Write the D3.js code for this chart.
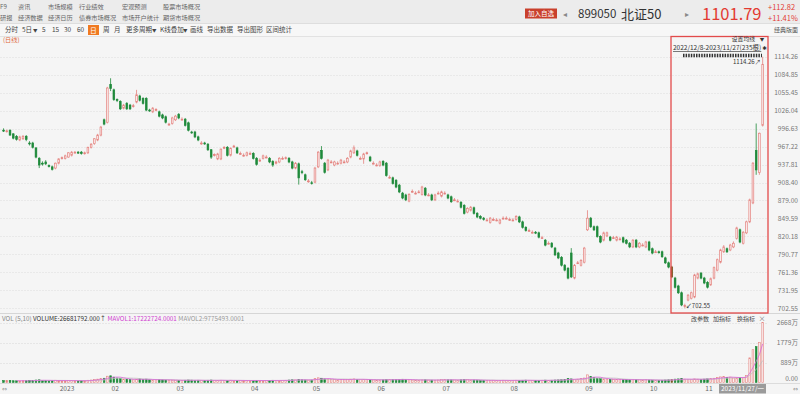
<!DOCTYPE html>
<html><head><meta charset="utf-8">
<script src="https://cdn.jsdelivr.net/npm/d3@7"></script>
<style>
html,body{margin:0;padding:0;background:#f5f5f5;overflow:hidden}
svg{display:block;font-family:"Noto Sans CJK SC","Noto Sans",sans-serif}
</style></head><body>
<svg id="c" width="800" height="394"></svg>
<script>
// ---- data (北证50 日线, 2022/12/8 - 2023/11/27, 235 bars) ----
const opens=[994,992,994,988,984,978,980,984,973,973,
965,948,940,942,936,934,932,940,948,948,
950,953,958,958,958,956,957,966,972,978,
986,1011,1007,1069,1060,1044,1041,1030,1038,1035,
1034,1040,1050,1046,1046,1027,1024,1027,1024,1019,
1016,1004,1005,1011,1020,1012,1012,1006,991,991,
983,973,973,971,962,953,947,947,965,966,
953,967,965,956,953,953,956,956,948,945,
948,950,948,943,940,942,948,948,948,942,
932,939,926,921,911,908,909,934,961,940,
929,942,937,940,940,942,942,950,957,960,
948,947,956,950,940,937,936,943,940,917,
916,912,904,891,888,878,894,891,893,889,
899,888,888,880,891,886,891,888,885,880,
878,876,871,860,863,867,858,853,850,847,
843,848,847,842,850,850,848,847,848,852,
844,835,830,827,827,826,818,814,809,809,
801,793,786,773,768,793,752,777,773,778,
831,850,836,836,820,814,821,819,818,814,
816,818,814,809,803,814,803,806,803,811,
800,795,795,795,785,777,770,752,739,728,
707,716,719,721,752,760,752,745,741,752,
765,778,795,800,798,803,817,831,809,826,
844,875,961,925,1002];
const closes=[993,993,986,981,979,983,984,979,972,966,
950,937,939,939,935,930,940,947,949,952,
957,958,958,957,956,957,966,971,980,986,
999,1004,1063,1062,1044,1043,1029,1035,1029,1029,
1034,1052,1043,1038,1027,1026,1030,1028,1017,1014,
1007,1004,1014,1017,1014,1012,1002,994,990,983,
978,973,972,962,950,954,955,963,966,953,
964,968,957,956,953,957,956,948,938,945,
952,950,942,937,942,948,948,949,942,932,
940,916,925,913,911,907,932,958,948,925,
945,942,942,940,945,942,948,960,965,953,
948,955,957,944,940,937,942,937,920,917,
907,901,893,883,880,889,894,891,893,901,
888,888,880,888,891,893,891,883,877,880,
878,868,858,866,868,858,852,850,848,847,
850,848,847,847,850,850,848,847,853,844,
835,830,830,827,826,819,818,806,809,803,
790,785,773,765,752,754,773,777,781,801,
850,836,831,820,811,826,826,814,818,819,
816,811,809,803,814,803,809,806,811,798,
793,795,794,787,777,770,754,737,728,708,
707,724,728,757,759,752,744,737,751,769,
782,798,803,795,806,809,834,811,827,844,
880,940,929,989,1101.79];
const highs=[997,995,995,989,986,985,986,986,976,975,
966,950,943,945,938,936,941,948,951,954,
958,960,960,960,960,959,967,973,981,988,
1001,1013,1065,1079,1062,1046,1043,1037,1040,1037,
1037,1060,1052,1048,1048,1029,1032,1030,1026,1021,
1018,1006,1016,1019,1022,1015,1014,1008,993,993,
985,976,975,973,963,956,957,964,968,968,
966,970,967,959,956,959,959,958,950,948,
954,953,950,945,944,950,951,951,950,944,
942,941,929,923,914,911,934,960,968,942,
947,945,944,943,947,945,950,962,969,962,
951,957,959,952,943,940,944,945,942,920,
918,914,906,893,890,891,897,894,896,903,
901,891,890,890,894,895,894,890,887,883,
881,878,873,868,870,869,860,855,852,850,
852,851,850,849,853,853,851,850,855,854,
846,837,833,830,829,828,821,816,812,811,
803,795,788,775,770,801,775,780,783,803,
863,852,838,838,822,828,828,821,821,821,
819,820,816,811,816,816,811,809,813,813,
802,798,797,797,787,779,772,754,741,730,
710,726,730,759,761,762,754,747,753,771,
784,800,806,802,808,812,836,833,829,846,
882,942,1005,990,1114.26];
const lows=[991,990,985,979,977,976,978,976,969,964,
948,932,936,937,933,928,930,938,946,946,
949,951,956,955,954,954,955,964,970,976,
984,1002,1005,1058,1042,1040,1027,1028,1027,1027,
1031,1038,1041,1036,1025,1024,1022,1025,1015,1012,
1005,1001,1003,1009,1012,1010,1000,992,988,981,
976,970,970,960,947,951,945,945,963,951,
951,965,955,954,951,951,954,946,936,942,
946,948,940,934,938,940,946,946,940,930,
930,905,922,911,908,905,907,932,946,923,
927,940,935,938,938,940,940,948,955,951,
946,939,954,942,938,935,934,935,918,915,
905,899,891,881,878,876,892,889,891,887,
886,886,878,878,889,884,889,881,875,878,
876,866,856,858,861,856,850,848,846,845,
841,846,845,840,848,848,846,845,846,842,
833,828,828,825,824,817,816,804,807,801,
788,783,771,763,750,752,750,775,771,776,
829,834,829,818,809,812,819,812,816,812,
814,809,807,801,801,801,801,804,801,796,
791,793,792,785,775,768,752,735,726,706,
702.55,714,717,719,750,750,742,735,739,750,
763,776,793,793,796,801,815,809,807,824,
842,873,921,921,1000];
// volume in 万
const volumes=[90,85,95,80,75,70,80,75,90,85,110,120,95,85,80,90,100,
85,80,75,90,95,80,70,75,80,100,110,130,150,170,190,280,
300,240,200,170,150,140,130,120,150,160,140,150,120,110,120,130,120,110,100,105,
100,95,90,100,110,105,95,100,90,85,100,110,95,90,100,95,90,100,85,90,95,85,90,
85,90,95,85,80,90,95,100,90,85,95,100,110,120,115,140,120,110,105,
110,180,210,190,160,150,140,130,120,135,125,140,150,160,140,130,135,125,120,115,
110,115,120,130,125,130,135,140,145,130,120,110,105,100,115,120,110,105,100,110,
130,125,120,115,110,105,120,135,125,115,110,105,100,95,90,95,100,90,95,100,95,
90,95,100,95,100,105,95,90,85,95,100,105,95,100,110,115,120,125,180,160,140,150,170,
200,340,260,220,190,170,160,150,140,130,140,135,130,125,120,130,125,120,115,120,
110,105,100,95,100,110,120,130,150,160,170,150,140,130,160,150,140,
150,160,170,190,220,250,260,230,240,200,210,230,214,310,1100,1463,1600,1780,2668.18];
// values printed in the VOL header
const volumeLabel="26681792.000", mavol1Label="17222724.0001", mavol2Label="9775493.0001";
const priceTicks=[702.55,731.95,761.36,790.77,820.18,849.59,879.00,908.40,937.81,967.22,996.63,1026.04,1055.45,1084.85,1114.26];
const volTicks=[0,889,1779,2668];
const volTickLabels=["0.00","889万","1779万","2668万"];
const monthLabels=["2023","02","03","04","05","06","07","08","09","10","11"];
const monthStartIndex=[17,33,53,76,95,115,135,156,179,199,216];
const selectedIndex=206;
const lowIndex=210, highIndex=234;

// ---- drawing ----
const svg=d3.select("#c");
const W=800;
function txt(x,y,s,o={}){
  const t=svg.append("text").attr("x",x).attr("y",y).text(s)
   .attr("font-size",o.fs||6.5).attr("fill",o.c||"#555")
   .attr("text-anchor",o.a||"start");
  if(o.w) t.attr("font-weight",o.w);
  if(o.f) t.attr("font-family",o.f);
  if(o.u) t.attr("text-decoration","underline");
  return t;
}
svg.append("rect").attr("width",W).attr("height",394).attr("fill","#f5f5f5");
svg.append("rect").attr("width",W).attr("height",23).attr("fill","#ececec");
svg.append("rect").attr("x",0).attr("y",23).attr("width",W).attr("height",13).attr("fill","#f7f7f7");
svg.append("line").attr("x1",0).attr("x2",W).attr("y1",23.5).attr("y2",23.5).attr("stroke","#dedede");
svg.append("line").attr("x1",0).attr("x2",W).attr("y1",36.5).attr("y2",36.5).attr("stroke","#e2e2e2");

// header menus
[["F9",0],["资讯",18],["市场规模",48],["行业绩效",79],["宏观预测",122],["股票市场概况",163]].forEach(d=>txt(d[1],9,d[0],{fs:6.2,c:"#666"}));
[["研报",0],["经济数据",18],["经济日历",48],["债券市场概况",79],["市场开户统计",122],["期货市场概况",163]].forEach(d=>txt(d[1],19.5,d[0],{fs:6.2,c:"#666"}));
svg.append("rect").attr("x",525).attr("y",8.5).attr("width",32).attr("height",10).attr("fill","#c9402c");
txt(541,16.3,"加入自选",{fs:6.5,c:"#fff",a:"middle"});
txt(565,17,"◂",{fs:8,c:"#888",a:"middle"});
txt(578,18,"899050",{fs:11.5,c:"#333"});
txt(621,18.5,"北证50",{fs:13,c:"#333"});
txt(687,17,"▸",{fs:8,c:"#888",a:"middle"});
txt(702,19.5,"1101.79",{fs:16.5,c:"#e33a31"});
txt(768,10,"+112.82",{fs:7.5,c:"#e33a31"});
txt(768,21,"+11.41%",{fs:7.5,c:"#e33a31"});

// toolbar
const tb=[["分时",5],["5日",22],["▼",33],["5",42],["15",52],["30",64],["60",77],["周",103],["月",114],["更多周期",126],["▼",152],["K线叠加",160],["▼",183],["画线",190],["导出数据",207],["导出图形",237],["区间统计",266]];
tb.forEach(d=>txt(d[1],32,d[0],{fs:d[0]==="▼"?4.5:6.5,c:"#444"}));
svg.append("rect").attr("x",88).attr("y",25).attr("width",11).attr("height",10).attr("fill","#f07a22");
txt(93.5,32.5,"日",{fs:6.8,c:"#fff",a:"middle"});
txt(798,32,"经典版面",{fs:6,c:"#555",a:"end"});
txt(3,42,"(日线)",{fs:6.2,c:"#e0663a"});

// scales
const idx=d3.range(opens.length);
const x=d3.scaleBand().domain(idx).range([2.4,763.8]).paddingInner(0.3);
const bw=x.bandwidth();
const cx=i=>x(i)+bw/2;
const y=d3.scaleLinear().domain([priceTicks[0],priceTicks[priceTicks.length-1]]).range([308.3,56.7]);
const yv=d3.scaleLinear().domain([0,volTicks[3]]).range([382.5,322.7]);

// grid
svg.append("g").selectAll("line").data(priceTicks).join("line")
 .attr("x1",0).attr("x2",768).attr("y1",d=>Math.round(y(d))+0.5).attr("y2",d=>Math.round(y(d))+0.5)
 .attr("stroke","#e9e9e9").attr("stroke-dasharray","2,1");
svg.append("g").selectAll("text").data(priceTicks).join("text")
 .attr("x",798).attr("y",d=>y(d)+2.3).attr("text-anchor","end").attr("font-size",6.6).attr("fill","#777")
 .text(d=>d3.format(".2f")(d));
svg.append("line").attr("x1",0).attr("x2",W).attr("y1",313.5).attr("y2",313.5).attr("stroke","#d6d6d6");

const RED="#e4837f", REDFILL="#fbf0f0", GREEN="#1f8a3b", BROWN="#7b5a26";
// candles
const cg=svg.append("g");
idx.forEach(i=>{
  const o=opens[i],c=closes[i],up=c>=o;
  const col=i===selectedIndex?BROWN:(up?RED:GREEN);
  cg.append("line").attr("x1",cx(i)).attr("x2",cx(i)).attr("y1",y(highs[i])).attr("y2",y(lows[i]))
    .attr("stroke",col).attr("stroke-width",0.8);
  const top=y(Math.max(o,c)), bot=y(Math.min(o,c));
  const h=Math.max(bot-top,0.9);
  cg.append("rect").attr("x",x(i)+0.3).attr("y",top).attr("width",bw-0.6).attr("height",h)
    .attr("fill",up&&h>2?REDFILL:col).attr("stroke",col).attr("stroke-width",0.7);
});

// selection box & annotations
svg.append("rect").attr("x",671).attr("y",36.5).attr("width",97).attr("height",276.5)
 .attr("fill","none").attr("stroke","#e24b4b").attr("stroke-width",1.3);
txt(755,41.2,"设置均线",{fs:5.8,c:"#333",a:"end"});
txt(762,41,"▼",{fs:4.5,c:"#333",a:"middle"});
txt(673,50,"2022/12/8-2023/11/27(235根)",{fs:6.5,c:"#333",u:true});
txt(764.5,50,"✱",{fs:5.5,c:"#333",a:"middle",f:"DejaVu Sans"});
svg.append("line").attr("x1",683).attr("x2",762).attr("y1",55.5).attr("y2",55.5)
 .attr("stroke","#333").attr("stroke-width",3.4).attr("stroke-dasharray","1.5,1.1");
txt(cx(highIndex)-2,y(highs[highIndex])+7.5,"1114.26↗",{fs:6,c:"#333",a:"end"});
txt(cx(lowIndex)+1,y(lows[lowIndex])-0.5,"↙702.55",{fs:6,c:"#333"});

// volume panel
svg.append("g").selectAll("line").data(volTicks.slice(1)).join("line")
 .attr("x1",0).attr("x2",768).attr("y1",d=>Math.round(yv(d))+0.5).attr("y2",d=>Math.round(yv(d))+0.5)
 .attr("stroke","#e6e6e6").attr("stroke-dasharray","2,1");
svg.append("g").selectAll("text").data(volTicks).join("text")
 .attr("x",798).attr("y",(d,i)=>yv(d)+(i===0?-1.8:2.3)).attr("text-anchor","end").attr("font-size",6.6).attr("fill","#777")
 .text((d,i)=>volTickLabels[i]);
const vg=svg.append("g");
idx.forEach(i=>{
  const up=closes[i]>=opens[i];
  const col=i===selectedIndex?BROWN:(up?RED:GREEN);
  const top=yv(volumes[i]), h=Math.max(yv(0)-top,0.8);
  vg.append("rect").attr("x",x(i)+0.3).attr("y",yv(0)-h).attr("width",bw-0.6).attr("height",h)
   .attr("fill",up&&h>2?REDFILL:col).attr("stroke",col).attr("stroke-width",0.6);
});
function ma(n){return idx.map(i=>i<n-1?null:d3.mean(volumes.slice(i-n+1,i+1)));}
const line=d3.line().defined(d=>d[1]!=null).x(d=>cx(d[0])).y(d=>yv(d[1]));
svg.append("path").attr("d",line(ma(10).map((v,i)=>[i,v]))).attr("fill","none").attr("stroke","#c0c0c0").attr("stroke-width",0.8);
svg.append("path").attr("d",line(ma(5).map((v,i)=>[i,v]))).attr("fill","none").attr("stroke","#d96ad9").attr("stroke-width",0.8);

const vh=svg.append("text").attr("x",2).attr("y",320.5).attr("font-size",6.3);
vh.append("tspan").attr("fill","#888").text("VOL (5,10) ");
vh.append("tspan").attr("fill","#333").text("VOLUME:"+volumeLabel+"↑ ");
vh.append("tspan").attr("fill","#d040d0").text(" MAVOL1:"+mavol1Label+" ");
vh.append("tspan").attr("fill","#999").text(" MAVOL2:"+mavol2Label);
txt(691,320.8,"改参数",{fs:6,c:"#444"});
txt(713,320.8,"加指标",{fs:6,c:"#444"});
txt(737,320.8,"换指标",{fs:6,c:"#444"});
txt(762,321,"×",{fs:7,c:"#777",a:"middle"});

// x axis
svg.append("line").attr("x1",0).attr("x2",W).attr("y1",383.5).attr("y2",383.5).attr("stroke","#dcdcdc");
svg.append("g").selectAll("text").data(monthLabels).join("text")
 .attr("x",(d,i)=>cx(monthStartIndex[i])+1).attr("y",390.5).attr("font-size",6.6).attr("fill","#666")
 .text(d=>d);
svg.append("rect").attr("x",719).attr("y",384).attr("width",47).attr("height",9.5).attr("fill","#9b9b9b");
txt(742.5,391,"2023/11/27/一",{fs:6.5,c:"#fff",a:"middle"});
txt(2,391,"⇔",{fs:6,c:"#888",f:"DejaVu Sans"});
txt(798,391,"⇔",{fs:6,c:"#888",a:"end",f:"DejaVu Sans"});
</script>
</body></html>
